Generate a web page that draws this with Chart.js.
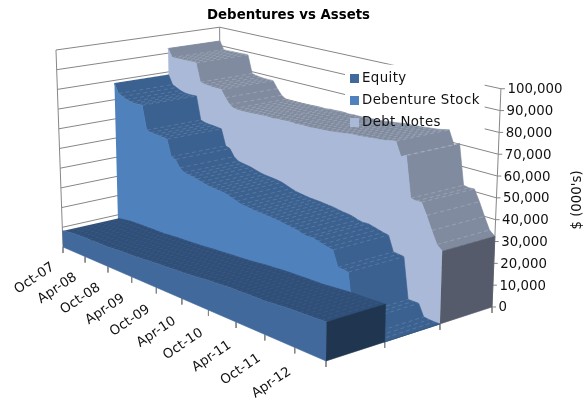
<!DOCTYPE html>
<html>
<head>
<meta charset="utf-8">
<title>Debentures vs Assets</title>
<style>
  html, body { margin: 0; background: #fff; }
  canvas { display: block; }
</style>
<script src="https://cdn.jsdelivr.net/npm/chart.js@4"></script>
</head>
<body>
<canvas id="assetsChart" width="586" height="401"></canvas>
<script>
/* Data, $000's, one value a month from Oct-07 */

const dateLabels = ["Oct-07", "Apr-08", "Oct-08", "Apr-09", "Oct-09", "Apr-10", "Oct-10", "Apr-11", "Oct-11", "Apr-12"];
const valueTicks = [0, 10000, 20000, 30000, 40000, 50000, 60000, 70000, 80000, 90000, 100000];
const seriesNames = ["Equity", "Debenture Stock", "Debt Notes"];
const axisTitle = "$ (000's)";

const equity = [8100, 8600, 8900, 9200, 9300, 9400, 9500, 9500, 9500, 9600, 9600, 9600,
  9600, 9900, 10000, 10200, 10300, 10400, 10500, 10600, 10800, 10900, 11100, 11300,
  11500, 11600, 11700, 11900, 12100, 12200, 12300, 12500, 12700, 12900, 13100, 13400,
  13600, 13700, 13900, 14100, 14200, 14300, 14300, 14400, 14500, 14500, 14600, 14600,
  14800, 15000, 15200, 15400, 15600, 15700, 15800, 15900, 16000, 16100, 16200, 16300];

const debentureStock = [78600, 73800, 72800, 71800, 71200, 71000, 71000, 71200, 59200, 58600, 58300, 58200,
  58000, 57800, 49700, 49000, 45500, 43900, 43500, 43200, 42800, 42200, 41600, 41200,
  41000, 40800, 40600, 40200, 39400, 38600, 37900, 37600, 37300, 37000, 36900, 36800,
  36600, 36400, 36200, 35800, 35400, 35200, 34800, 34000, 33600, 33800, 33200, 32600,
  32000, 31600, 24700, 24500, 24200, 5600, 5600, 5600, 400, 100, 0, 0];

const debtNotes = [92700, 88200, 88200, 88300, 88300, 88400, 88500, 88500, 79000, 78500, 78200, 78000,
  78000, 78000, 74400, 71500, 70000, 69800, 69800, 69900, 70000, 70200, 70300, 70500,
  70500, 70400, 70800, 70800, 71000, 71000, 70800, 71000, 71000, 71000, 71200, 71400,
  71500, 71700, 72000, 72300, 72600, 73000, 73200, 73300, 73500, 73700, 74000, 74200,
  74500, 75000, 75500, 69000, 70400, 51500, 51000, 51200, 46000, 40000, 34500, 32400];

/* Camera: where the floor corners land, and how the walls lean */

const floorFrontLeft = [63, 247], floorFrontRight = [326, 361], floorBackRight = [492, 307], floorBackLeft = [221, 210];
const fullHeight = 197, vanishing = [264, 5880], maxValue = 100000;

const dx1 = floorFrontRight[0] - floorBackRight[0], dy1 = floorFrontRight[1] - floorBackRight[1];
const dx2 = floorBackLeft[0] - floorBackRight[0], dy2 = floorBackLeft[1] - floorBackRight[1];
const sx = floorFrontLeft[0] - floorFrontRight[0] + floorBackRight[0] - floorBackLeft[0];
const sy = floorFrontLeft[1] - floorFrontRight[1] + floorBackRight[1] - floorBackLeft[1];
const det = dx1 * dy2 - dx2 * dy1;
const g = (sx * dy2 - dx2 * sy) / det, h = (dx1 * sy - sx * dy1) / det;

// u runs along the dates, v from front to back of the floor
function project(u, v, value) {
  const w = g * u + h * v + 1;
  const fx = ((floorFrontRight[0] - floorFrontLeft[0] + g * floorFrontRight[0]) * u + (floorBackLeft[0] - floorFrontLeft[0] + h * floorBackLeft[0]) * v + floorFrontLeft[0]) / w;
  const fy = ((floorFrontRight[1] - floorFrontLeft[1] + g * floorFrontRight[1]) * u + (floorBackLeft[1] - floorFrontLeft[1] + h * floorBackLeft[1]) * v + floorFrontLeft[1]) / w;
  const rise = fullHeight / w * value / maxValue;
  return { x: fx + (fx - vanishing[0]) / (vanishing[1] - fy) * rise, y: fy - rise };
}

/* Every mark is one line dataset, added back to front */

const layers = [];

function polygon(points, colour) {
  layers.push({ data: points, backgroundColor: colour, borderColor: colour, borderWidth: 0.6, fill: 'shape' });
}

function stroke(points, colour, width, dash) {
  layers.push({ data: points, borderColor: colour, borderWidth: width || 1, borderDash: dash || [], fill: false });
}

const gridColour = "#868686";

function walls() {
  const wallLines = [];
  valueTicks.forEach(t => {
    wallLines.push(project(0, 0, t), project(0, 1, t), project(1, 1, t), { x: null, y: null });
  });
  [[0, 0], [0, 1], [1, 1]].forEach(c => {
    wallLines.push(project(c[0], c[1], 0), project(c[0], c[1], maxValue), { x: null, y: null });
  });
  stroke(wallLines, gridColour);
  // the legend's white box sits behind the series but over the grid
  polygon([{ x: 345, y: 65 }, { x: 484, y: 65 }, { x: 484, y: 130 }, { x: 345, y: 130 }], "#ffffff");
}

function ribbon(values, v0, v1, c) {
  const last = values.length - 1;
  const us = values.map((_, i) => i / last);
  const frontEdge = values.map((val, i) => project(us[i], v0, val));
  const backEdge = values.map((val, i) => project(us[i], v1, val));
  polygon(frontEdge.concat(backEdge.slice().reverse()), c.top);
  const dashes = [];
  values.forEach((_, i) => dashes.push(frontEdge[i], backEdge[i], { x: null, y: null }));
  stroke(dashes, c.dash, 0.7, [4, 3]);
  polygon(frontEdge.concat([project(1, v0, 0), project(0, v0, 0)]), c.front);
  polygon([project(1, v0, values[last]), project(1, v1, values[last]), project(1, v1, 0), project(1, v0, 0)], c.end);
}

function floorTicks() {
  const ticks = [];
  for (let k = 0; k <= 10; k++) {
    const p = project(k / 10, 0, 0);
    ticks.push(p, { x: p.x, y: p.y + 6 }, { x: null, y: null });
  }
  for (let k = 1; k <= 3; k++) {
    const p = project(1, k / 3, 0);
    ticks.push(p, { x: p.x, y: p.y + 6 }, { x: null, y: null });
  }
  valueTicks.forEach(t => {
    const p = project(1, 1, t);
    ticks.push(p, { x: p.x + 4, y: p.y }, { x: null, y: null });
  });
  stroke(ticks, gridColour);
}

const seriesColours = [
  { top: "#2f4f79", front: "#41699c", end: "#203650", dash: "rgba(255,255,255,0.08)" },
  { top: "#3b6190", front: "#4f81bd", end: "#2f4f79", dash: "rgba(255,255,255,0.2)" },
  { top: "#808b9f", front: "#aab9d7", end: "#565b6b", dash: "rgba(255,255,255,0.28)" }
];

walls();
floorTicks();
ribbon(debtNotes, 2 / 3, 1, seriesColours[2]);
ribbon(debentureStock, 1 / 3, 2 / 3, seriesColours[1]);
ribbon(equity, 0, 1 / 3, seriesColours[0]);

const titleHeight = 24;

/* Axis texts and legend, placed through the same scales */

const chartTexts = {
  id: 'chartTexts',
  afterDatasetsDraw(chart) {
    const ctx = chart.ctx, xs = chart.scales.x, ys = chart.scales.y;
    const px = p => xs.getPixelForValue(p.x), py = p => ys.getPixelForValue(p.y);
    ctx.save();
    ctx.fillStyle = "#111";
    ctx.font = "13.33px 'DejaVu Sans'";
    ctx.textBaseline = "middle";

    valueTicks.forEach(t => {
      const p = project(1, 1, t);
      ctx.textAlign = "left";
      ctx.fillText(t.toLocaleString("en-US"), px(p) + 6.5, py(p) + 1);
    });

    dateLabels.forEach((label, k) => {
      const p = project(k / 10, 0, 0);
      ctx.save();
      ctx.translate(px(p) - 10 + 0.55 * k, py(p) + 19 + 0.45 * k);
      ctx.rotate(-34 * Math.PI / 180);
      ctx.textAlign = "right";
      ctx.fillText(label, 0, 0);
      ctx.restore();
    });

    ctx.save();
    ctx.translate(578, 200);
    ctx.rotate(-Math.PI / 2);
    ctx.textAlign = "center";
    ctx.fillText(axisTitle, 0, 0);
    ctx.restore();

    ctx.letterSpacing = "0.4px";
    seriesNames.forEach((name, i) => {
      ctx.fillStyle = seriesColours[i].front;
      ctx.fillRect(350, 74 + i * 22, 9, 9);
      ctx.fillStyle = "#111";
      ctx.textAlign = "left";
      ctx.fillText(name, 362, 79 + i * 22);
    });
    ctx.restore();
  }
};

new Chart(document.getElementById("assetsChart"), {
  type: 'line',
  data: {
    datasets: layers.map((d, i) => Object.assign(d, { order: layers.length - i, pointRadius: 0, tension: 0, borderJoinStyle: 'round' }))
  },
  options: {
    responsive: false,
    animation: false,
    layout: { padding: { right: 9 } },
    scales: {
      x: { type: 'linear', display: false, min: 0, max: 577 },
      y: { display: false, reverse: true, min: titleHeight, max: 401 }
    },
    plugins: {
      legend: { display: false },
      tooltip: { enabled: false },
      title: {
        display: true,
        text: "Debentures vs Assets",
        color: "#000",
        font: { family: "'DejaVu Sans'", size: 13.33, weight: 'bold', lineHeight: 1.2 },
        padding: { top: 8, bottom: 0 }
      }
    }
  },
  plugins: [chartTexts]
});
</script>
</body>
</html>
